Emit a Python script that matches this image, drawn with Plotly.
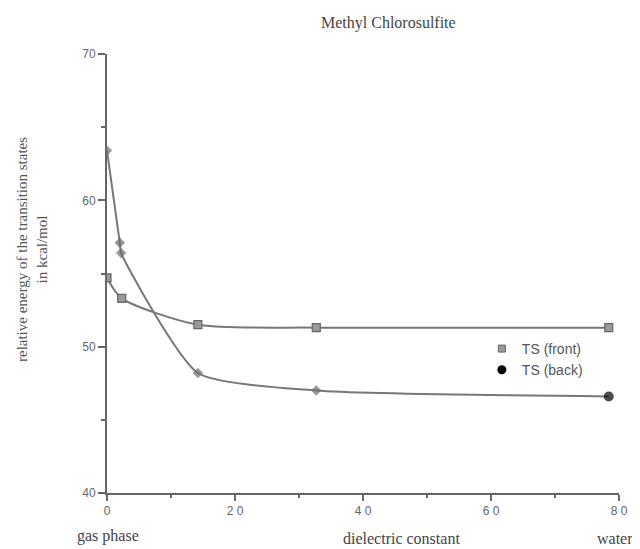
import plotly.graph_objects as go

# Data
front_x = [0, 2.3, 14.2, 32.7, 78.4]
front_y = [54.7, 53.3, 51.5, 51.3, 51.3]

back_x = [0, 2.0, 2.2, 14.2, 32.7, 78.4]
back_y = [63.4, 57.1, 56.4, 48.2, 47.0, 46.6]

x_tickvals = [0, 20, 40, 60, 80]
x_ticktext = ["0", "2 0", "4 0", "6 0", "8 0"]
y_tickvals = [40, 50, 60, 70]

title_text = "Methyl Chlorosulfite"
y_title = "relative energy of the transition states<br>in kcal/mol"
legend_names = ["TS (front)", "TS (back)"]

LINE = "#777777"
AX = "#666666"
serif = "Liberation Serif, Times New Roman, serif"
sans = "Liberation Sans, Arial, sans-serif"

# page geometry (the page body adds an 8px offset)
OFF = 8
W, H = 640 - OFF, 549 - OFF
PL, PR, PT, PB = 107, 626, 54, 493  # plot area on the page


def px(X):
    return (X - PL) / (PR - PL)


def py(Y):
    return (PB - Y) / (PB - PT)


fig = go.Figure()

fig.add_trace(go.Scatter(x=front_x, y=front_y, mode="lines",
                         line=dict(color=LINE, width=2, shape="spline", smoothing=0.7),
                         showlegend=False, hoverinfo="skip"))
fig.add_trace(go.Scatter(x=back_x, y=back_y, mode="lines",
                         line=dict(color=LINE, width=2, shape="spline", smoothing=0.55),
                         showlegend=False, hoverinfo="skip"))

fig.add_trace(go.Scatter(x=front_x, y=front_y, mode="markers",
                         marker=dict(symbol="square", size=8, color="#9a9a9a",
                                     line=dict(color="#666666", width=1.2)),
                         showlegend=False))
n = len(back_x)
fig.add_trace(go.Scatter(x=back_x, y=back_y, mode="markers",
                         marker=dict(symbol=["diamond"] * (n - 1) + ["circle"],
                                     size=[8] * (n - 1) + [10],
                                     color=["#6e6e6e"] * (n - 1) + ["#000000"],
                                     line=dict(width=0)),
                         showlegend=False))

fig.add_trace(go.Scatter(x=[None], y=[None], mode="markers", name=legend_names[0],
                         marker=dict(symbol="square", size=7, color="#9a9a9a",
                                     line=dict(color="#666666", width=1))))
fig.add_trace(go.Scatter(x=[None], y=[None], mode="markers", name=legend_names[1],
                         marker=dict(symbol="circle", size=9, color="#000000")))

fig.update_layout(
    width=W, height=H,
    margin=dict(l=PL - OFF, r=W - (PR - OFF), t=PT - OFF, b=H - (PB - OFF)),
    paper_bgcolor="white", plot_bgcolor="white",
    showlegend=True,
    legend=dict(x=px(487), y=py(333), xanchor="left", yanchor="top",
                font=dict(family=sans, size=14, color="#555555"),
                bgcolor="rgba(0,0,0,0)", itemwidth=30, tracegroupgap=0),
    xaxis=dict(range=[0, 80], showgrid=False, zeroline=False,
               showline=True, linecolor=AX, linewidth=1.8,
               tickvals=x_tickvals, ticktext=x_ticktext,
               ticks="outside", ticklen=6, tickwidth=1.5, tickcolor=AX,
               tickfont=dict(family=sans, size=12, color="#666666"),
               minor=dict(dtick=10, ticks="outside", ticklen=3, tickwidth=1.5, tickcolor=AX)),
    yaxis=dict(range=[40, 70], showgrid=False, zeroline=False,
               showline=True, linecolor=AX, linewidth=1.8,
               tickvals=y_tickvals,
               ticks="outside", ticklen=7, tickwidth=1.5, tickcolor=AX,
               tickfont=dict(family=sans, size=12, color="#666666"),
               minor=dict(dtick=5, ticks="outside", ticklen=4, tickwidth=1.5, tickcolor=AX)),
    annotations=[
        dict(text=title_text, xref="paper", yref="paper", x=px(392), y=py(23),
             xanchor="center", yanchor="middle", showarrow=False,
             font=dict(family=serif, size=16, color="#444444")),
        dict(text=y_title, xref="paper", yref="paper", x=px(31), y=py(250),
             xanchor="center", yanchor="middle", showarrow=False, textangle=-90,
             font=dict(family=serif, size=15, color="#555555")),
        dict(text="gas phase", xref="paper", yref="paper", x=px(108), y=py(536),
             xanchor="center", yanchor="middle", showarrow=False,
             font=dict(family=serif, size=16, color="#444444")),
        dict(text="dielectric constant", xref="paper", yref="paper", x=px(406), y=py(538),
             xanchor="center", yanchor="middle", showarrow=False,
             font=dict(family=serif, size=16, color="#444444")),
        dict(text="water", xref="paper", yref="paper", x=px(622), y=py(538),
             xanchor="center", yanchor="middle", showarrow=False,
             font=dict(family=serif, size=16, color="#444444")),
    ],
)

fig.write_html("out.html")
